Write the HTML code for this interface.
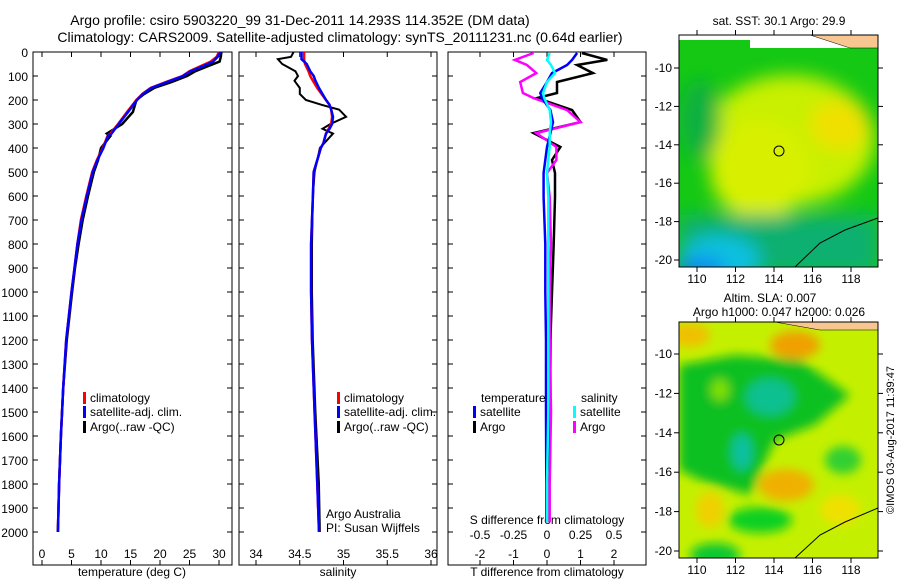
<!DOCTYPE html>
<html><head><meta charset="utf-8"><style>
body{margin:0;background:#fff;}
svg text{font-family:"Liberation Sans",sans-serif;fill:#000;}
</style></head><body>
<svg id="c" width="900" height="580" xmlns="http://www.w3.org/2000/svg">
<defs>
<filter id="bl" x="-50%" y="-50%" width="200%" height="200%"><feGaussianBlur stdDeviation="9"/></filter>
<filter id="bl2" x="-50%" y="-50%" width="200%" height="200%"><feGaussianBlur stdDeviation="5"/></filter>
<clipPath id="m1"><rect x="679" y="35" width="199" height="232"/></clipPath>
<clipPath id="m2"><rect x="679" y="322" width="199" height="236"/></clipPath>
</defs>
<text x="300" y="25" font-size="14" text-anchor="middle">Argo profile: csiro 5903220_99 31-Dec-2011 14.293S 114.352E (DM data)</text>
<text x="340" y="42" font-size="14" text-anchor="middle">Climatology: CARS2009. Satellite-adjusted climatology: synTS_20111231.nc (0.64d earlier)</text>
<g id="p1"></g>
<g id="p2"></g>
<g id="p3"></g>
<g>
<text x="779" y="25" font-size="12" text-anchor="middle">sat. SST: 30.1 Argo: 29.9</text>
<g clip-path="url(#m1)">
<rect x="679" y="35" width="199" height="232" fill="#14c814"/>
<g filter="url(#bl)">
<ellipse cx="790" cy="140" rx="85" ry="65" fill="#c8f000"/>
<ellipse cx="760" cy="170" rx="50" ry="50" fill="#d8f000"/>
<ellipse cx="840" cy="125" rx="30" ry="25" fill="#f0e000"/>
<ellipse cx="700" cy="120" rx="20" ry="40" fill="#10b040"/>
<rect x="679" y="215" width="199" height="60" fill="#08b070"/>
<ellipse cx="720" cy="260" rx="40" ry="25" fill="#10c0e0"/>
<ellipse cx="700" cy="268" rx="25" ry="10" fill="#1080f0"/>
</g>
<rect x="679" y="35" width="199" height="5" fill="#fff"/>
<rect x="750" y="35" width="128" height="13" fill="#fff"/>
<path d="M810 35 L878 35 L878 48 L850 48 Z" fill="#f8c690" stroke="#000" stroke-width="0.5"/>
<path d="M795 267 L820 243 L845 230 L878 218" fill="none" stroke="#000" stroke-width="1"/>
</g>
<rect x="679" y="35" width="199" height="232" fill="none" stroke="#000"/>
<circle cx="779" cy="151" r="5" fill="none" stroke="#000"/>
</g>
<g>
<text x="770" y="302" font-size="12" text-anchor="middle">Altim. SLA: 0.007</text>
<text x="779" y="316" font-size="12" text-anchor="middle">Argo h1000: 0.047 h2000: 0.026</text>
<g clip-path="url(#m2)">
<rect x="679" y="322" width="199" height="236" fill="#c4f000"/>
<g filter="url(#bl2)">
<ellipse cx="690" cy="335" rx="20" ry="12" fill="#f0c000"/>
<ellipse cx="795" cy="345" rx="25" ry="14" fill="#f0a000"/>
<path d="M679 365 L735 355 L800 360 L850 395 L815 425 L775 440 L750 495 L700 480 L679 470 Z" fill="#10c020"/>
<ellipse cx="770" cy="397" rx="24" ry="18" fill="#10c090"/>
<ellipse cx="742" cy="452" rx="10" ry="18" fill="#10c0a0"/>
<ellipse cx="720" cy="390" rx="9" ry="11" fill="#80e000"/>
<ellipse cx="843" cy="460" rx="18" ry="14" fill="#30d030"/>
<ellipse cx="786" cy="485" rx="28" ry="16" fill="#f0b000"/>
<ellipse cx="710" cy="510" rx="14" ry="18" fill="#f0d000"/>
<ellipse cx="760" cy="520" rx="32" ry="13" fill="#10d020"/>
<ellipse cx="715" cy="555" rx="25" ry="12" fill="#10c830"/>
<ellipse cx="840" cy="510" rx="20" ry="15" fill="#f0e000"/>
</g>
<path d="M775 322 L878 322 L878 330 L820 330 Z" fill="#f8c690" stroke="#000" stroke-width="0.5"/>
<path d="M795 558 L820 535 L845 522 L878 508" fill="none" stroke="#000" stroke-width="1"/>
</g>
<rect x="679" y="322" width="199" height="236" fill="none" stroke="#000"/>
<circle cx="779" cy="440" r="5" fill="none" stroke="#000"/>
</g>
<text transform="translate(894,440) rotate(-90)" font-size="11" text-anchor="middle">©IMOS 03-Aug-2017 11:39:47</text>
</svg>
<script>
const tDepth=[0,20,40,60,80,100,125,150,175,200,250,300,340,350,400,450,500,600,700,800,900,1000,1200,1400,1600,1800,2000];
const tClim=[30,29.6,28.6,26.8,25,23.8,21,18.4,17,16,14.4,12.9,11.6,11.1,10.3,9.3,8.5,7.5,6.6,6.0,5.5,5.0,4.1,3.6,3.2,2.9,2.7];
const tSat=[30.2,29.8,29,27.2,25.2,23.9,21.2,18.5,17.1,16.1,14.6,13,11.8,11.2,10.4,9.4,8.6,7.6,6.7,6.0,5.5,5.0,4.1,3.6,3.2,2.9,2.7];
const tArgo=[30.4,30.3,30.1,28,26,24.6,22,19,17.3,16,15.4,13.6,11,11.6,10.0,9.5,8.8,7.8,6.9,6.2,5.6,5.1,4.2,3.6,3.2,2.9,2.7];
const sDepth=[0,20,30,50,80,100,120,150,175,200,220,240,270,300,320,340,380,400,450,500,600,800,1000,1200,1500,1800,2000];
const sClim=[34.55,34.55,34.55,34.56,34.6,34.62,34.65,34.7,34.75,34.8,34.84,34.86,34.87,34.86,34.83,34.8,34.77,34.74,34.7,34.66,34.65,34.63,34.63,34.64,34.67,34.7,34.72];
const sSat=[34.52,34.52,34.52,34.58,34.62,34.66,34.68,34.72,34.76,34.8,34.84,34.86,34.88,34.87,34.84,34.8,34.77,34.74,34.7,34.66,34.65,34.63,34.63,34.64,34.67,34.7,34.72];
const sArgo=[34.43,34.4,34.25,34.3,34.45,34.48,34.44,34.5,34.5,34.57,34.75,34.95,35.03,34.85,34.76,34.88,34.78,34.73,34.7,34.67,34.65,34.64,34.64,34.65,34.68,34.72,34.73];
const dDepth=[4,33,54,88,125,171,192,242,292,338,396,450,504,604,800,1000,1200,1500,1800,1960];
const dtArgo=[1.04,1.8,0.9,1.37,0.3,0.3,-0.3,0.75,1.0,-0.4,0.4,0.15,0.24,0.24,0.2,0.15,0.1,0.1,0.0,0.0];
const dtSat=[0.9,0.75,0.6,0.15,0.0,-0.2,-0.15,0.1,0.18,0.1,0.0,-0.05,-0.1,-0.1,-0.05,-0.05,-0.03,-0.03,-0.02,-0.02];
const dsArgo=[-0.1,-0.24,-0.15,-0.08,-0.2,-0.18,-0.1,0.15,0.25,-0.08,0.07,0.07,0.0,0.02,0.03,0.02,0.02,0.03,0.02,0.02];
const dsSat=[0.02,0.0,0.03,0.06,0.0,-0.03,-0.02,0.02,0.03,0.02,0.02,0.01,0.0,0.01,0.01,0.01,0.01,0.01,0.0,0.0];
const depthTicks=[0,100,200,300,400,500,600,700,800,900,1000,1100,1200,1300,1400,1500,1600,1700,1800,1900,2000];
const tTicks=[0,5,10,15,20,25,30];
const sTicks=[34,34.5,35,35.5,36];
const dtTicks=[-2,-1,0,1,2];
const dsTicks=[-0.5,-0.25,0,0.25,0.5];
const dsTickLabels=['-0.5','-0.25','0','0.25','0.5'];

const NS='http://www.w3.org/2000/svg';
const Y0=52,YB=565;
const yD=d=>Y0+d*0.24;
const xT=v=>42+v*5.9;
const xS=v=>256+(v-34)*87.5;
const xDT=v=>547+v*33.5;
const xDS=v=>547+v*134;
function mk(tag,attrs,parent,txt){const e=document.createElementNS(NS,tag);for(const k in attrs)e.setAttribute(k,attrs[k]);if(txt!==undefined)e.textContent=txt;parent.appendChild(e);return e;}
function frame(g,x0,x1,name){
  const r=mk('rect',{x:x0,y:Y0,width:x1-x0,height:YB-Y0,fill:'none',stroke:'#000','stroke-width':1},g);
  
  
  depthTicks.forEach(d=>{mk('line',{x1:x0,x2:x0+5,y1:yD(d),y2:yD(d),stroke:'#000'},g);mk('line',{x1:x1-5,x2:x1,y1:yD(d),y2:yD(d),stroke:'#000'},g);});
}
function xticks(g,ticks,fx,labels,y){
  ticks.forEach((t,i)=>{
    mk('line',{x1:fx(t),x2:fx(t),y1:Y0,y2:Y0+5,stroke:'#000'},g);
    mk('line',{x1:fx(t),x2:fx(t),y1:YB-5,y2:YB,stroke:'#000'},g);
    const tx=mk('text',{x:fx(t),y:y,'font-size':12,'text-anchor':'middle'},g,labels?labels[i]:String(t));
    
    
  });
}
function line(g,xs,ds,fx,col,name,w){
  const p=mk('polyline',{points:xs.map((v,i)=>fx(v).toFixed(1)+','+yD(ds[i]).toFixed(1)).join(' '),fill:'none',stroke:col,'stroke-width':w||2.5,'stroke-linejoin':'miter'},g);
  
  
}
function legend(g,x,y,col,label,name){
  mk('rect',{x:x,y:y-10,width:3,height:12,fill:col},g);
  const t=mk('text',{x:x+7,y:y,'font-size':12},g,label);
  
  
}
// panel 1
const p1=document.getElementById('p1');
frame(p1,33,232,'temperature');
depthTicks.forEach(d=>{const t=mk('text',{x:28,y:yD(d)+5,'font-size':12,'text-anchor':'end'},p1,String(d));
  
  });
xticks(p1,tTicks,xT,null,558);
const a1=mk('text',{x:132,y:576,'font-size':12,'text-anchor':'middle'},p1,'temperature (deg C)');


line(p1,tArgo,tDepth,xT,'#000','temp-argo-line');
line(p1,tClim,tDepth,xT,'#f00','temp-climatology-line');
line(p1,tSat,tDepth,xT,'#00f','temp-satellite-line');
legend(p1,83,402,'#f00','climatology','legend-climatology');
legend(p1,83,416,'#00f','satellite-adj. clim.','legend-satellite');
legend(p1,83,431,'#000','Argo(..raw -QC)','legend-argo');
// panel 2
const p2=document.getElementById('p2');
frame(p2,239,437,'salinity');
xticks(p2,sTicks,xS,null,558);
const a2=mk('text',{x:338,y:576,'font-size':12,'text-anchor':'middle'},p2,'salinity');


line(p2,sArgo,sDepth,xS,'#000','sal-argo-line',2);
line(p2,sClim,sDepth,xS,'#f00','sal-climatology-line');
line(p2,sSat,sDepth,xS,'#00f','sal-satellite-line');
legend(p2,337,402,'#f00','climatology','legend-climatology');
legend(p2,337,416,'#00f','satellite-adj. clim.','legend-satellite');
legend(p2,337,431,'#000','Argo(..raw -QC)','legend-argo');
const c1=mk('text',{x:326,y:518,'font-size':12},p2,'Argo Australia');


const c2=mk('text',{x:326,y:532,'font-size':12},p2,'PI: Susan Wijffels');


// panel 3
const p3=document.getElementById('p3');
frame(p3,448,646,'difference');
xticks(p3,dtTicks,xDT,null,558);
dsTicks.forEach((t,i)=>{const tx=mk('text',{x:xDS(t),y:539,'font-size':12,'text-anchor':'middle'},p3,dsTickLabels[i]);
  
  });
const a3=mk('text',{x:547,y:524,'font-size':12,'text-anchor':'middle'},p3,'S difference from climatology');


const a4=mk('text',{x:547,y:576,'font-size':12,'text-anchor':'middle'},p3,'T difference from climatology');


line(p3,dtArgo,dDepth,xDT,'#000','tdiff-argo-line');
line(p3,dsArgo,dDepth,xDS,'#f0f','sdiff-argo-line');
line(p3,dtSat,dDepth,xDT,'#00f','tdiff-satellite-line');
line(p3,dsSat,dDepth,xDS,'#0ff','sdiff-satellite-line');
const lt=mk('text',{x:481,y:402,'font-size':12},p3,'temperature');


const ls=mk('text',{x:581,y:402,'font-size':12},p3,'salinity');


legend(p3,473,416,'#00f','satellite','legend-t-satellite');
legend(p3,473,431,'#000','Argo','legend-t-argo');
legend(p3,573,416,'#0ff','satellite','legend-s-satellite');
legend(p3,573,431,'#f0f','Argo','legend-s-argo');
// map ticks
const svg=document.getElementById('c');
const lons=[110,112,114,116,118];
const lats=[-10,-12,-14,-16,-18,-20];
const xL=l=>697+(l-110)*19.25;
[[35,267,68,38.4],[322,558,354,39.4]].forEach(([top,bot,y10,step],mi)=>{
  lons.forEach(l=>{
    mk('line',{x1:xL(l),x2:xL(l),y1:top-5,y2:top,stroke:'#000'},svg);
    mk('line',{x1:xL(l),x2:xL(l),y1:bot,y2:bot+5,stroke:'#000'},svg);
    const t=mk('text',{x:xL(l),y:bot+16,'font-size':12,'text-anchor':'middle'},svg,String(l));
    
    
  });
  lats.forEach((la,i)=>{
    const y=y10+(-10-la)/2*step;
    mk('line',{x1:674,x2:679,y1:y,y2:y,stroke:'#000'},svg);
    mk('line',{x1:878,x2:883,y1:y,y2:y,stroke:'#000'},svg);
    const t=mk('text',{x:672,y:y+4,'font-size':12,'text-anchor':'end'},svg,String(la));
    
    
  });
});
</script>
</body></html>
